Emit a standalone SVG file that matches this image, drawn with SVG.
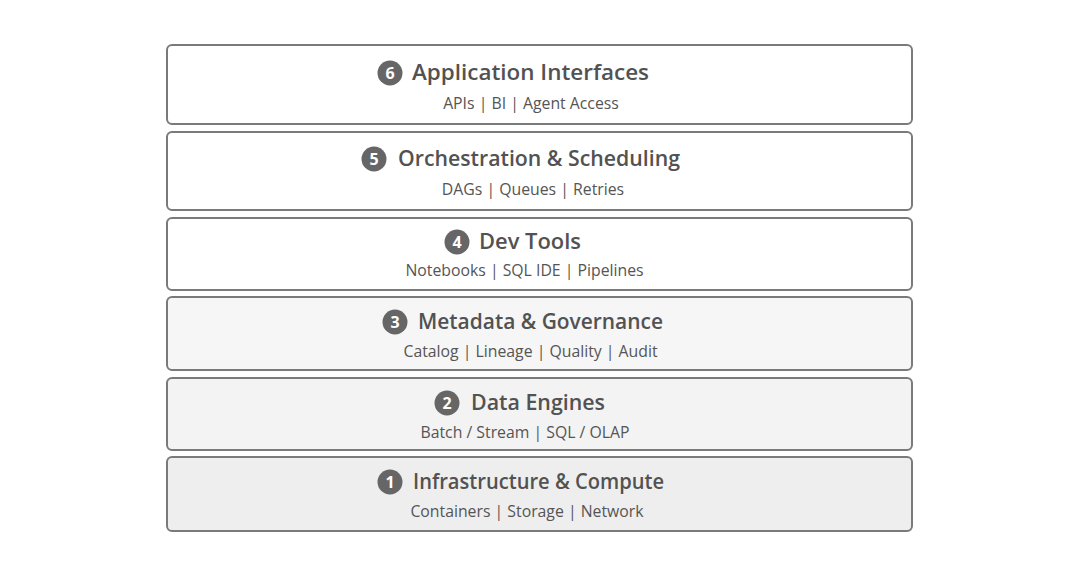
<svg xmlns="http://www.w3.org/2000/svg" width="1080" height="582" viewBox="0 0 1080 582">
<style>
.box{stroke:#7a7a7a;stroke-width:2}
.t{font-family:"Open Sans","Noto Sans",sans-serif;font-weight:600;font-size:22.3px;fill:#525252}
.s{font-family:"Open Sans","Noto Sans",sans-serif;font-size:15.8px;fill:#555;text-anchor:middle}
.c{fill:#666}
.n{font-family:"Open Sans","Noto Sans",sans-serif;font-weight:700;font-size:16px;fill:#fff;text-anchor:middle}
</style>
<rect width="1080" height="582" fill="#fff"/>
<g id="layer6">
<rect class="box" x="167" y="45" width="745" height="79" rx="5" fill="#fff"/>
<circle class="c" cx="390" cy="73" r="12.5"/><text class="n" x="390" y="78.8">6</text>
<text class="t" x="412" y="80" textLength="237" lengthAdjust="spacingAndGlyphs">Application Interfaces</text>
<text class="s" x="531" y="109">APIs | BI | Agent Access</text>
</g>
<g id="layer5">
<rect class="box" x="167" y="132" width="745" height="78" rx="5" fill="#fff"/>
<circle class="c" cx="374" cy="159" r="12.5"/><text class="n" x="374" y="164.8">5</text>
<text class="t" x="398" y="166" textLength="282" lengthAdjust="spacingAndGlyphs">Orchestration &amp; Scheduling</text>
<text class="s" x="533" y="195">DAGs | Queues | Retries</text>
</g>
<g id="layer4">
<rect class="box" x="167" y="218" width="745" height="72" rx="5" fill="#fff"/>
<circle class="c" cx="457" cy="242" r="12.5"/><text class="n" x="457" y="247.8">4</text>
<text class="t" x="479" y="249" textLength="102" lengthAdjust="spacingAndGlyphs">Dev Tools</text>
<text class="s" x="524.5" y="276">Notebooks | SQL IDE | Pipelines</text>
</g>
<g id="layer3">
<rect class="box" x="167" y="297" width="745" height="73" rx="5" fill="#f6f6f6"/>
<circle class="c" cx="395" cy="322" r="12.5"/><text class="n" x="395" y="327.8">3</text>
<text class="t" x="418" y="329" textLength="245" lengthAdjust="spacingAndGlyphs">Metadata &amp; Governance</text>
<text class="s" x="530.5" y="357">Catalog | Lineage | Quality | Audit</text>
</g>
<g id="layer2">
<rect class="box" x="167" y="378" width="745" height="72" rx="5" fill="#f3f3f3"/>
<circle class="c" cx="447" cy="403" r="12.5"/><text class="n" x="447" y="408.8">2</text>
<text class="t" x="471" y="410" textLength="134" lengthAdjust="spacingAndGlyphs">Data Engines</text>
<text class="s" x="525" y="438">Batch / Stream | SQL / OLAP</text>
</g>
<g id="layer1">
<rect class="box" x="167" y="457" width="745" height="74" rx="5" fill="#eeeeee"/>
<circle class="c" cx="390" cy="482" r="12.5"/><text class="n" x="390" y="487.8">1</text>
<text class="t" x="413" y="489" textLength="251" lengthAdjust="spacingAndGlyphs">Infrastructure &amp; Compute</text>
<text class="s" x="527" y="517">Containers | Storage | Network</text>
</g>
</svg>
